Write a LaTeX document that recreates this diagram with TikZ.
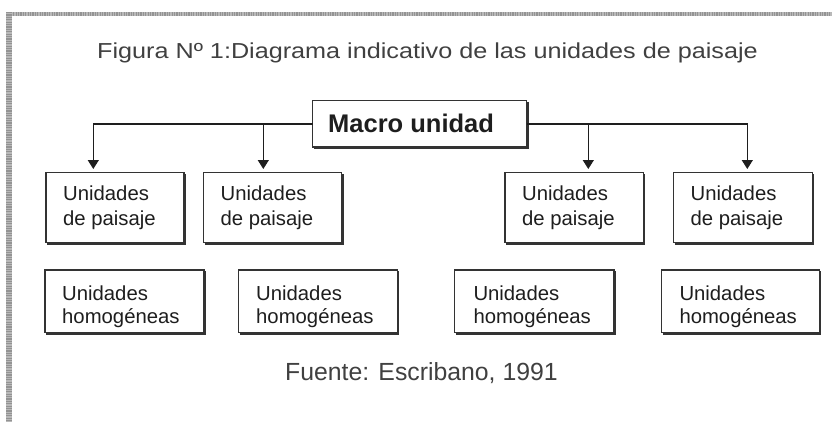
\documentclass[tikz,border=0pt]{standalone}
\usepackage{fontspec}
\setmainfont{Liberation Sans}
\usetikzlibrary{arrows.meta}
\definecolor{ink}{HTML}{1E1E1E}
\definecolor{frame}{HTML}{333333}
\tikzset{
  box/.style={draw=frame, line width=1.2bp, fill=white, inner sep=0pt, outer sep=0pt, anchor=north west},
  shadowline/.style={draw=frame, line width=1.6bp},
  boxtext/.style={anchor=base west, inner sep=0pt, text=ink, font=\fontsize{20.3bp}{24bp}\selectfont},
  conn/.style={draw=ink, line width=1.3bp},
  arr/.style={conn, -{Triangle[width=11bp,length=9bp]}, shorten >=3.7bp},
  hatch/.style={draw=gray!55, line width=#1},
}
\begin{document}
\begin{tikzpicture}[x=1bp,y=-1bp]
\useasboundingbox (0,0) rectangle (832,422);
% border (top and left)
\draw[hatch=4bp] (6,14) -- (832,14);
\draw[hatch=4bp, draw=gray!85, dash pattern=on 1.2bp off 1.2bp] (6,14) -- (832,14);
\draw[hatch=5.5bp] (8.75,12) -- (8.75,422);
\draw[hatch=5.5bp, draw=gray!85, dash pattern=on 1.2bp off 1.2bp] (8.75,12) -- (8.75,422);

% title
\node[anchor=base west, inner sep=0pt, text=ink!85, font=\fontsize{25.2bp}{30bp}\selectfont] (title) at (97,58)
  {\scalebox{1}[0.86]{Figura Nº 1:Diagrama indicativo de las unidades de paisaje}};

% macro unit
\node[box, minimum width=214bp, minimum height=46.3bp] (macro) at (312.7,100.7) {};
\node[anchor=base west, inner sep=0pt, text=ink, font=\bfseries\fontsize{25.5bp}{30bp}\selectfont] (macrot) at (328,132.7) {Macro unidad};

% landscape units
\node[box, minimum width=138bp, minimum height=70bp] (p1) at (46,172.7) {};
\node[box, minimum width=138.4bp, minimum height=70bp] (p2) at (203.3,172.7) {};
\node[box, minimum width=138.3bp, minimum height=70bp] (p3) at (505,172.7) {};
\node[box, minimum width=139bp, minimum height=70bp] (p4) at (673.3,172.7) {};

% homogeneous units
\node[box, minimum width=159bp, minimum height=62.7bp] (h1) at (45,270) {};
\node[box, minimum width=159bp, minimum height=62.7bp] (h2) at (238.3,270) {};
\node[box, minimum width=159.7bp, minimum height=62.7bp] (h3) at (454.3,270) {};
\node[box, minimum width=157.6bp, minimum height=62.7bp] (h4) at (661.7,270) {};

% shadows
\foreach \n in {macro,p1,p2,p3,p4,h1,h2,h3,h4}
  \draw[shadowline] ([xshift=1.2bp,yshift=-1.2bp]\n.south west) -- ([xshift=1.2bp,yshift=-1.2bp]\n.south east) -- ([xshift=1.2bp,yshift=-1.2bp]\n.north east);

% texts in landscape unit boxes
\foreach \n/\x in {p1/63,p2/220.5,p3/522,p4/690.5} {
  \node[boxtext] (\n a) at (\x,200.7) {Unidades};
  \node[boxtext] (\n b) at (\x,225) {de paisaje};
}
% texts in homogeneous unit boxes
\foreach \n/\x in {h1/62,h2/256,h3/473.3,h4/679.3} {
  \node[boxtext] (\n a) at (\x,300) {Unidades};
  \node[boxtext] (\n b) at (\x,323.3) {homogéneas};
}

% connectors
\draw[arr] (macro.west) -| ([xshift=-21.7bp]p1.north);
\draw[arr] ([xshift=-9.2bp]p2.north |- macro.west) -- ([xshift=-9.2bp]p2.north);
\draw[arr] (macro.east) -| ([xshift=4.5bp]p4.north);
\draw[arr] ([xshift=14.15bp]p3.north |- macro.east) -- ([xshift=14.15bp]p3.north);

% source
\node[anchor=base west, inner sep=0pt, text=ink!85, font=\fontsize{24.8bp}{30bp}\selectfont] (source) at (285,380) {Fuente: Escribano, 1991};
\end{tikzpicture}
\end{document}
